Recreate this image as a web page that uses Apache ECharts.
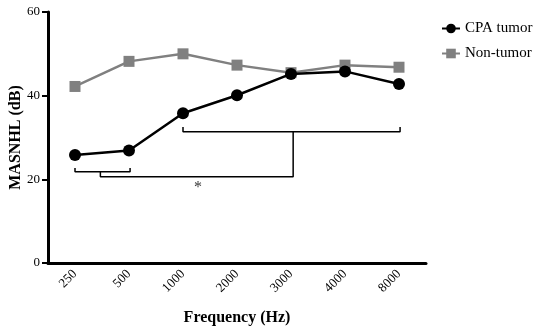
<!DOCTYPE html>
<html><head><meta charset="utf-8">
<script src="https://cdn.jsdelivr.net/npm/echarts@6/dist/echarts.min.js"></script>
<style>html,body{margin:0;padding:0;background:#fff}#c{width:550px;height:329px}</style>
</head><body><div id="c"></div>
<script>
var categories = ['250','500','1000','2000','3000','4000','8000'];
var cpaTumor = [25.8, 26.9, 35.8, 40.1, 45.2, 45.8, 42.8];
var nonTumor = [42.2, 48.2, 50.0, 47.3, 45.5, 47.3, 46.8];
var yTicks = [0, 20, 40, 60];
// significance bracket paths: [category index, dB]
var bracketLow = [[0, 22.7], [0, 21.8], [1.02, 21.8], [1.02, 22.7]];
var bracketHigh = [[2, 32.5], [2, 31.4], [6.02, 31.4], [6.02, 32.5]];
var connector = [[0.47, 21.8], [0.47, 20.6], [4.04, 20.6], [4.04, 31.4]];
var starMark = [[2.28, 18.0]];

var serif = 'Liberation Serif';
var chart = echarts.init(document.getElementById('c'));
function bracket(d){
  return {type:'line', xAxisIndex:1, data:d, symbol:'none', silent:true,
    lineStyle:{color:'#000', width:1.5}, z:1};
}
chart.setOption({
  animation:false,
  grid:{left:48, right:124, top:12, bottom:66, containLabel:false, outerBoundsMode:'none'},
  legend:{orient:'vertical', left:436, top:16, itemGap:10, itemWidth:18, itemHeight:12,
    textStyle:{fontFamily:serif, fontSize:15, color:'#000'},
    data:['CPA tumor','Non-tumor']},
  xAxis:[{type:'category', data:categories, boundaryGap:true,
    name:'Frequency (Hz)', nameLocation:'middle', nameGap:47,
    nameTextStyle:{fontFamily:serif, fontWeight:'bold', fontSize:16, color:'#000'},
    axisLine:{onZero:false, lineStyle:{color:'#000', width:3}},
    axisTick:{alignWithLabel:true, length:5, lineStyle:{color:'#000', width:2}},
    axisLabel:{rotate:45, fontFamily:serif, fontSize:13, color:'#000', margin:9}},
   {type:'value', min:-0.5, max:6.5, show:false}],
  yAxis:{type:'value', min:0, max:60, interval:20,
    name:'MASNHL (dB)', nameLocation:'middle', nameGap:24, nameMoveOverlap:false,
    nameTextStyle:{fontFamily:serif, fontWeight:'bold', fontSize:16, color:'#000'},
    axisLine:{show:true, onZero:false, lineStyle:{color:'#000', width:3}},
    axisTick:{show:true, length:6, lineStyle:{color:'#000', width:2}},
    splitLine:{show:false},
    axisLabel:{fontFamily:serif, fontSize:13, color:'#000', margin:8,
      formatter:function(v){return yTicks.indexOf(v)>=0 ? String(v) : '';}}},
  series:[
    {name:'Non-tumor', type:'line', data:nonTumor, symbol:'rect', symbolSize:11,
      itemStyle:{color:'#808080'}, lineStyle:{color:'#808080', width:2.5}, z:3},
    {name:'CPA tumor', type:'line', data:cpaTumor, symbol:'circle', symbolSize:12,
      itemStyle:{color:'#000'}, lineStyle:{color:'#000', width:2.5}, z:4},
    bracket(bracketLow), bracket(bracketHigh), bracket(connector),
    {type:'scatter', xAxisIndex:1, data:starMark, symbolSize:0, silent:true,
      label:{show:true, formatter:'*', position:'inside', fontFamily:serif, fontSize:16, color:'#000'}}
  ]
});
</script></body></html>
